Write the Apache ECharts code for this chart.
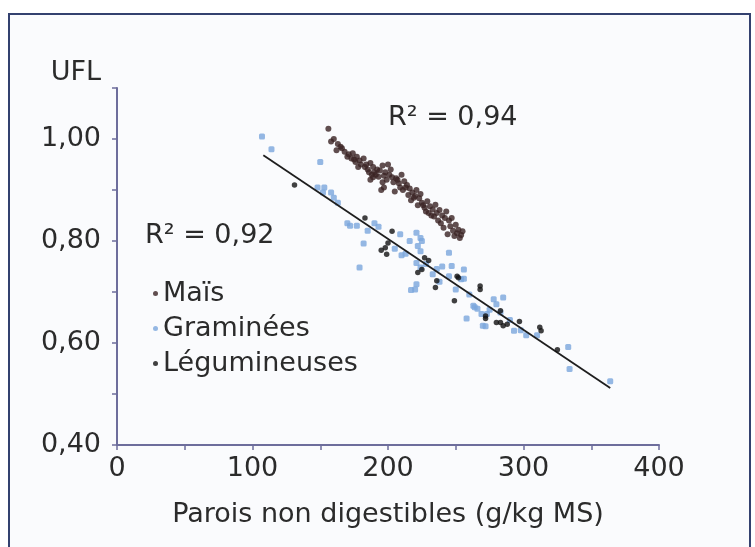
<!DOCTYPE html>
<html>
<head>
<meta charset="utf-8">
<script src="https://cdn.jsdelivr.net/npm/echarts@6/dist/echarts.min.js"></script>
<style>
html,body{margin:0;padding:0;background:#ffffff;}
#chart{width:755px;height:547px;}
</style>
</head>
<body>
<div id="chart"></div>
<script>
// ---- data ----
var maisX = [156,160,163,166,162,168,171,174,173,177,179,182,184,187,185,189,190,192,194,196,200,193,187,191,196,195,199,201,203,206,208,210,212,205,209,214,216,218,221,215,219,223,225,226,229,231,228,233,235,236,238,240,243,242,245,247,246,241,250,252,255,244,249,253,237,232,224,211,202,198,180,176,
             158,165,170,175,178,183,186,188,197,204,207,213,217,220,227,230,234,239,248,251,254,222,197,189];
var maisY = [1.02,1.00,0.99,0.982,0.978,0.975,0.97,0.972,0.962,0.965,0.958,0.962,0.95,0.953,0.94,0.945,0.935,0.94,0.938,0.948,0.95,0.926,0.92,0.93,0.915,0.90,0.92,0.93,0.925,0.923,0.913,0.93,0.917,0.897,0.905,0.91,0.903,0.895,0.90,0.89,0.885,0.884,0.875,0.87,0.878,0.868,0.858,0.862,0.871,0.855,0.861,0.85,0.858,0.845,0.84,0.845,0.829,0.826,0.832,0.822,0.819,0.813,0.81,0.806,0.84,0.85,0.892,0.90,0.94,0.935,0.95,0.955,
             0.995,0.985,0.965,0.96,0.945,0.945,0.935,0.93,0.928,0.915,0.92,0.905,0.88,0.888,0.865,0.855,0.848,0.835,0.82,0.815,0.812,0.87,0.905,0.925];

var gramX = [107,114,150,148,153,158,160,172,177,170,182,190,193,209,216,221,224,225,210,222,224,245,179,221,224,247,256,245,254,256,221,220,217,278,285,263,264,266,258,269,273,270,272,280,293,333,334,364,236,240,302,283,
             152,163,185,205,213,228,233,238,250,260,275,290,298,310];
var gramY = [1.005,0.98,0.955,0.905,0.905,0.895,0.885,0.83,0.83,0.835,0.795,0.835,0.828,0.813,0.80,0.816,0.806,0.80,0.772,0.79,0.78,0.777,0.748,0.757,0.748,0.751,0.744,0.731,0.725,0.726,0.715,0.705,0.704,0.686,0.689,0.673,0.67,0.667,0.648,0.657,0.657,0.634,0.633,0.676,0.624,0.592,0.549,0.525,0.745,0.75,0.615,0.66,
             0.895,0.875,0.82,0.785,0.775,0.755,0.735,0.72,0.705,0.695,0.665,0.645,0.625,0.615];

var legX = [131,183,203,200,198,195,199,227,230,222,225,236,235,251,252,249,268,268,272,280,283,272,283,285,288,297,312,313,325];
var legY = [0.91,0.845,0.819,0.796,0.787,0.782,0.774,0.767,0.762,0.738,0.744,0.722,0.709,0.731,0.728,0.683,0.705,0.712,0.653,0.64,0.663,0.648,0.64,0.634,0.637,0.642,0.631,0.624,0.587];

var regX = [108, 364];
var regY = [0.968, 0.512];

var seriesNames = ['Maïs', 'Graminées', 'Légumineuses'];
var r2Labels = ['R² = 0,94', 'R² = 0,92'];
var xTickLabels = ['0', '100', '200', '300', '400'];
var yTickLabels = ['0,40', '0,60', '0,80', '1,00'];

function pairs(xs, ys){ return xs.map(function(x,i){ return [x, ys[i]]; }); }

var FONT = 'DejaVu Sans';
var TXT = '#2b2b2b';
var AX = '#6d6d9c';

var chart = echarts.init(document.getElementById('chart'));
chart.setOption({
  animation: false,
  backgroundColor: '#ffffff',
  textStyle: { fontFamily: FONT },
  grid: { left: 117, right: 96, top: 88, bottom: 102 },
  xAxis: {
    type: 'value', min: 0, max: 400, interval: 50,
    name: 'Parois non digestibles (g/kg MS)',
    nameLocation: 'middle', nameGap: 56,
    nameTextStyle: { fontSize: 27, color: TXT, fontFamily: FONT },
    axisLine: { show: true, lineStyle: { color: AX, width: 2 } },
    axisTick: { show: true, inside: false, length: 5, lineStyle: { color: AX, width: 1.5 } },
    splitLine: { show: false },
    axisLabel: {
      fontSize: 27, color: TXT, margin: 10, fontFamily: FONT,
      formatter: function(v){ var i = xTickLabels.indexOf(String(v)); return i >= 0 ? xTickLabels[i] : ''; }
    }
  },
  yAxis: {
    type: 'value', min: 0.4, max: 1.1, interval: 0.1,
    name: 'UFL', nameLocation: 'end', nameGap: 2,
    nameTextStyle: { fontSize: 27, color: TXT, fontFamily: FONT, align: 'right', padding: [0, 16, 0, 0] },
    axisLine: { show: true, lineStyle: { color: AX, width: 2 } },
    axisTick: { show: true, inside: false, length: 5, lineStyle: { color: AX, width: 1.5 } },
    splitLine: { show: false },
    axisLabel: {
      fontSize: 27, color: TXT, margin: 16, fontFamily: FONT,
      formatter: function(v){
        var s = v.toFixed(2).replace('.', ',');
        return yTickLabels.indexOf(s) >= 0 ? s : '';
      }
    }
  },
  legend: {
    orient: 'vertical', left: 148, top: 275, itemGap: 8,
    itemWidth: 5, itemHeight: 5,
    textStyle: { fontSize: 27, color: TXT, fontFamily: FONT },
    data: [
      { name: seriesNames[0], icon: 'circle' },
      { name: seriesNames[1], icon: 'circle' },
      { name: seriesNames[2], icon: 'circle' }
    ]
  },
  graphic: [
    { type: 'rect', z: -10, silent: true, shape: { x: 9, y: 14, width: 741, height: 560 },
      style: { fill: '#fafbfd', stroke: '#33416f', lineWidth: 2 } },
    { type: 'text', left: 388, top: 104, silent: true,
      style: { text: r2Labels[0], fontSize: 27, fill: TXT, fontFamily: FONT } },
    { type: 'text', left: 145, top: 222, silent: true,
      style: { text: r2Labels[1], fontSize: 27, fill: TXT, fontFamily: FONT } }
  ],
  series: [
    { name: seriesNames[0], type: 'scatter', symbol: 'circle', symbolSize: 6,
      itemStyle: { color: '#3a2323' }, data: pairs(maisX, maisY), z: 4 },
    { name: seriesNames[1], type: 'scatter', symbol: 'roundRect', symbolSize: 6,
      itemStyle: { color: '#7aa6dc' }, data: pairs(gramX, gramY), z: 3 },
    { name: seriesNames[2], type: 'scatter', symbol: 'circle', symbolSize: 5.5,
      itemStyle: { color: '#111111' }, data: pairs(legX, legY), z: 5 },
    { name: 'regression', type: 'line', data: pairs(regX, regY), symbol: 'none',
      lineStyle: { color: '#1e1e1e', width: 1.8 }, z: 4, silent: true }
  ]
});
</script>
</body>
</html>
